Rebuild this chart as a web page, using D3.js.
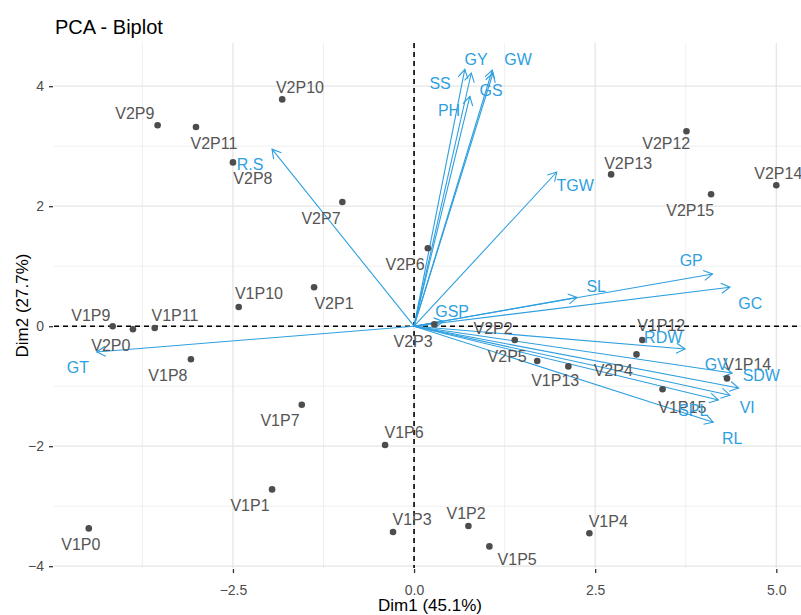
<!DOCTYPE html>
<html><head><meta charset="utf-8">
<script src="https://cdn.jsdelivr.net/npm/d3@7"></script>
<style>body{margin:0;background:#fff}svg{display:block}text{font-family:"Liberation Sans",Arial,sans-serif}</style>
</head><body><div id="chart"></div>
<script>
// Individuals
const indNames = ["V2P10","V2P9","V2P11","V2P8","V2P7","V1P10","V2P1","V1P9","V1P11","V2P0","V1P8","V1P7","V1P6","V1P1","V1P0","V1P3","V1P2","V1P5","V1P4","V2P12","V2P13","V2P14","V2P15","V2P6","V2P2","V2P3","V2P5","V1P13","V2P4","V1P12","V1P14","V1P15"];
const indDim1 = [-1.82,-3.54,-3.01,-2.50,-0.99,-2.42,-1.38,-4.16,-3.58,-3.88,-3.08,-1.55,-0.40,-1.96,-4.49,-0.29,0.75,1.04,2.42,3.76,2.72,5.00,4.10,0.19,1.39,0.28,1.70,2.13,3.07,3.15,4.32,3.43];
const indDim2 = [3.78,3.35,3.32,2.73,2.07,0.32,0.65,0.00,-0.03,-0.05,-0.55,-1.31,-1.98,-2.72,-3.37,-3.43,-3.33,-3.67,-3.45,3.25,2.53,2.35,2.20,1.30,-0.23,0.03,-0.58,-0.67,-0.47,-0.23,-0.87,-1.05];
// repelled label anchors (data units)
const indLabX = [-1.575,-3.854,-2.762,-2.224,-1.285,-2.141,-1.105,-4.461,-3.301,-4.185,-3.398,-1.851,-0.138,-2.265,-4.599,-0.028,0.718,1.423,2.680,3.481,2.956,5.028,3.812,-0.124,1.091,-0.014,1.285,1.948,2.749,3.412,4.599,3.702];
const indLabY = [3.983,3.55,3.05,2.467,1.80,0.55,0.383,0.183,0.183,-0.317,-0.817,-1.567,-1.767,-2.983,-3.633,-3.217,-3.117,-3.883,-3.25,3.05,2.717,2.55,1.933,1.033,-0.033,-0.25,-0.5,-0.9,-0.733,0.017,-0.633,-1.35];

// Variables
const varNames = ["R.S","GT","TGW","SS","GY","PH","GW","GS","GSP","SL","GP","GC","RDW","GV","SDW","VI","SPL","RL"];
const varDim1 = [-1.96,-4.38,1.97,0.70,0.79,0.77,1.08,1.09,0.40,2.25,4.12,4.36,3.74,4.39,4.48,4.36,4.20,4.13];
const varDim2 = [2.95,-0.43,2.57,4.28,4.22,3.83,4.27,4.22,0.08,0.48,0.87,0.65,-0.38,-0.78,-1.03,-1.15,-1.23,-1.60];
const varLabX = [-2.265,-4.641,2.224,0.359,0.856,0.483,1.436,1.064,0.525,2.514,3.826,4.641,3.439,4.171,4.793,4.599,3.854,4.392];
const varLabY = [2.70,-0.683,2.35,4.05,4.45,3.60,4.45,3.933,0.25,0.667,1.10,0.383,-0.183,-0.633,-0.817,-1.35,-1.40,-1.867];

const xTicks = [-2.5, 0, 2.5, 5.0];
const yTicks = [-4, -2, 0, 2, 4];
const xMinor = [-3.75, -1.25, 1.25, 3.75];
const yMinor = [-3, -1, 1, 3];
const title = "PCA - Biplot";
const xTitle = "Dim1 (45.1%)";
const yTitle = "Dim2 (27.7%)";

const W = 801, H = 615;
const P = {l: 54, r: 806, t: 43, b: 568};
const x = d3.scaleLinear().domain([-4.97, 5.41]).range([P.l, P.r]);
const y = d3.scaleLinear().domain([-4.03, 4.72]).range([P.b, P.t]);
const blue = "#2E9FDF";

const svg = d3.select("#chart").append("svg").attr("width", W).attr("height", H);

// grid
const grid = svg.append("g");
grid.selectAll(".mx").data(xMinor).join("line").attr("x1", d => x(d)).attr("x2", d => x(d)).attr("y1", P.t).attr("y2", P.b).attr("stroke", "#ebebeb").attr("stroke-width", 0.8);
grid.selectAll(".my").data(yMinor).join("line").attr("y1", d => y(d)).attr("y2", d => y(d)).attr("x1", P.l).attr("x2", P.r).attr("stroke", "#ebebeb").attr("stroke-width", 0.8);
grid.selectAll(".Mx").data(xTicks).join("line").attr("x1", d => x(d)).attr("x2", d => x(d)).attr("y1", P.t).attr("y2", P.b).attr("stroke", "#e6e6e6").attr("stroke-width", 1.3);
grid.selectAll(".My").data(yTicks).join("line").attr("y1", d => y(d)).attr("y2", d => y(d)).attr("x1", P.l).attr("x2", P.r).attr("stroke", "#e6e6e6").attr("stroke-width", 1.3);

// axes
const xAxis = d3.axisBottom(x).tickValues(xTicks).tickFormat(d3.format(".1f")).tickSize(4).tickPadding(12);
const gx = svg.append("g").attr("transform", `translate(0,${P.b + 1})`).call(xAxis);
const yAxis = d3.axisLeft(y).tickValues(yTicks).tickFormat(d3.format("d")).tickSize(4).tickPadding(5);
const gy = svg.append("g").attr("transform", `translate(${P.l - 1},0)`).call(yAxis);
[gx, gy].forEach(g => {
  g.select(".domain").remove();
  g.selectAll(".tick line").attr("stroke", "#333").attr("stroke-width", 1.3);
  g.selectAll(".tick text").attr("fill", "#4d4d4d").attr("font-size", 14).attr("font-family", '"Liberation Sans",Arial,sans-serif');
});

// reference dashed lines
svg.append("line").attr("x1", P.l).attr("x2", P.r).attr("y1", y(0)).attr("y2", y(0)).attr("stroke", "#000").attr("stroke-width", 1.6).attr("stroke-dasharray", "5,4");
svg.append("line").attr("y1", P.t).attr("y2", P.b).attr("x1", x(0)).attr("x2", x(0)).attr("stroke", "#000").attr("stroke-width", 1.6).attr("stroke-dasharray", "5,4");

// arrows
const vars = varNames.map((n, i) => ({n, x: varDim1[i], y: varDim2[i], lx: varLabX[i], ly: varLabY[i]}));
const ag = svg.append("g").attr("stroke", blue).attr("fill", "none").attr("stroke-width", 1.1);
vars.forEach(v => {
  const x0 = x(0), y0 = y(0), x1 = x(v.x), y1 = y(v.y);
  ag.append("line").attr("x1", x0).attr("y1", y0).attr("x2", x1).attr("y2", y1);
  const a = Math.atan2(y1 - y0, x1 - x0), L = 10, s = Math.PI / 6;
  ag.append("path").attr("d", `M${x1 - L * Math.cos(a - s)},${y1 - L * Math.sin(a - s)}L${x1},${y1}L${x1 - L * Math.cos(a + s)},${y1 - L * Math.sin(a + s)}`);
});

// individuals
const inds = indNames.map((n, i) => ({n, x: indDim1[i], y: indDim2[i], lx: indLabX[i], ly: indLabY[i]}));
svg.append("g").selectAll("circle").data(inds).join("circle")
  .attr("cx", d => x(d.x)).attr("cy", d => y(d.y)).attr("r", 3.3).attr("fill", "#4d4d4d");
svg.append("g").selectAll("text").data(inds).join("text")
  .attr("x", d => x(d.lx)).attr("y", d => y(d.ly)).attr("text-anchor", "middle").attr("dominant-baseline", "central")
  .attr("font-size", 16).attr("fill", "#555").text(d => d.n);

// variable labels
svg.append("g").selectAll("text").data(vars).join("text")
  .attr("x", d => x(d.lx)).attr("y", d => y(d.ly)).attr("text-anchor", "middle").attr("dominant-baseline", "central")
  .attr("font-size", 16).attr("fill", blue).text(d => d.n);

// titles
svg.append("text").attr("x", 55).attr("y", 34).attr("font-size", 20).attr("fill", "#000").text(title);
svg.append("text").attr("x", (P.l + P.r) / 2).attr("y", 611).attr("text-anchor", "middle").attr("font-size", 17).attr("fill", "#000").text(xTitle);
svg.append("text").attr("transform", `translate(22,${(P.t + P.b) / 2}) rotate(-90)`).attr("text-anchor", "middle").attr("dominant-baseline", "central").attr("font-size", 17).attr("fill", "#000").text(yTitle);
</script></body></html>
